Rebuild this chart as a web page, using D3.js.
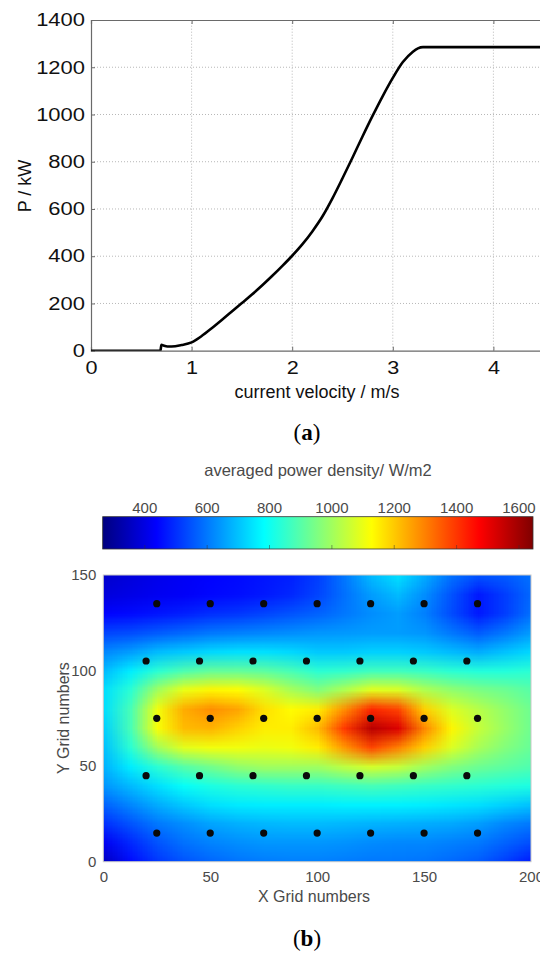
<!DOCTYPE html>
<html><head><meta charset="utf-8">
<script src="https://cdn.jsdelivr.net/npm/d3@7/dist/d3.min.js"></script>
<style>
body{margin:0;background:#fff}
svg{display:block}
text{font-family:"Liberation Sans",Arial,Helvetica,sans-serif}
</style>
</head><body>
<svg id="chart" width="540" height="954"></svg>
<script>
// ---------- Panel (a): power curve ----------
const velocity = [0, 0.69, 0.70, 0.72, 0.76, 0.80, 0.90, 1.0, 1.1, 1.2, 1.3, 1.4, 1.5, 1.6, 1.7, 1.8, 1.9, 2.0, 2.1, 2.2, 2.3, 2.4, 2.5, 2.6, 2.7, 2.8, 2.9, 3.0, 3.1, 3.2, 3.25, 3.3, 5.0];
const power    = [0, 0,    25,   22,   18,   18,   24,   35,  62,  95,  130, 166, 202, 238, 276, 316, 358, 402, 450, 505, 568, 645, 730, 818, 908, 995, 1078, 1155, 1222, 1266, 1280, 1285, 1285];
const xTicksA = [0, 1, 2, 3, 4];
const yTicksA = [0, 200, 400, 600, 800, 1000, 1200, 1400];

// ---------- Panel (b): power density map ----------
const gridX = [0, 12.5, 25, 37.5, 50, 62.5, 75, 87.5, 100, 112.5, 125, 137.5, 150, 162.5, 175, 187.5, 200];
const gridY = [150, 140, 130, 120, 110, 100, 90, 80, 70, 60, 50, 40, 30, 20, 10, 0];
const row150 = [370,390,410,425,440,450,465,480,520,600,690,740,670,590,550,560,590];
const row140 = [390,405,420,430,445,455,470,490,530,590,650,690,630,550,470,520,580];
const row130 = [440,450,465,480,500,510,530,550,570,600,630,650,610,540,470,520,590];
const row120 = [530,540,560,580,600,610,620,630,640,645,650,650,640,600,560,600,650];
const row110 = [620,650,690,710,730,740,740,730,710,710,720,720,710,690,670,700,730];
const row100 = [690,760,840,890,920,920,910,880,840,850,870,870,860,840,830,830,840];
const row90  = [740,840,1000,1100,1140,1130,1080,1010,960,1020,1090,1080,1020,980,950,930,900];
const row80  = [740,880,1110,1240,1280,1250,1170,1130,1150,1280,1420,1380,1190,1080,1030,980,930];
const row70  = [720,880,1120,1220,1230,1190,1150,1150,1220,1400,1570,1520,1290,1140,1050,990,930];
const row60  = [700,840,1000,1090,1110,1110,1100,1110,1150,1270,1380,1300,1190,1080,1010,960,920];
const row50  = [680,760,840,900,940,980,1000,1000,1000,1040,1070,1050,1000,960,930,910,890];
const row40  = [640,690,740,790,820,840,850,860,860,870,880,870,860,850,840,830,820];
const row30  = [570,620,670,710,740,755,760,760,760,765,765,765,760,750,740,720,700];
const row20  = [500,550,600,630,660,675,685,690,690,685,680,675,670,665,650,620,600];
const row10  = [420,490,550,590,615,630,640,640,640,635,625,620,620,610,600,570,540];
const row0   = [350,450,510,550,575,595,605,610,610,605,600,600,595,580,560,520,470];
const density = [row150,row140,row130,row120,row110,row100,row90,row80,row70,row60,row50,row40,row30,row20,row10,row0];

const sensorX = [25,50,75,100,125,150,175, 20,45,70,95,120,145,170, 25,50,75,100,125,150,175, 20,45,70,95,120,145,170, 25,50,75,100,125,150,175];
const sensorY = [135,135,135,135,135,135,135, 105,105,105,105,105,105,105, 75,75,75,75,75,75,75, 45,45,45,45,45,45,45, 15,15,15,15,15,15,15];
const xTicksB = [0, 50, 100, 150, 200];
const yTicksB = [0, 50, 100, 150];
const cbTicks = [400, 600, 800, 1000, 1200, 1400, 1600];
const cbDomain = [265, 1645];

const svg = d3.select("#chart");
svg.append("rect").attr("width",540).attr("height",954).attr("fill","#fff");

function widen(sel, f){
  sel.each(function(){
    const w = this.getComputedTextLength();
    d3.select(this).attr("textLength", w*f).attr("lengthAdjust","spacingAndGlyphs");
  });
}

// ===== Panel (a) =====
const xA = d3.scaleLinear().domain([0,5]).range([91, 91 + 5*100.6]);
const yA = d3.scaleLinear().domain([0,1400]).range([350.7, 20]);
const gA = svg.append("g");

gA.selectAll(".vg").data(xTicksA.filter(d=>d>0)).join("line")
  .attr("x1", d=>xA(d)).attr("x2", d=>xA(d)).attr("y1", yA(0)).attr("y2", yA(1400))
  .attr("stroke","#b8b8b8").attr("stroke-width",1).attr("stroke-dasharray","1,2");
gA.selectAll(".hg").data(yTicksA.filter(d=>d>0 && d<1400)).join("line")
  .attr("x1", xA(0)).attr("x2", xA(5)).attr("y1", d=>yA(d)).attr("y2", d=>yA(d))
  .attr("stroke","#b8b8b8").attr("stroke-width",1).attr("stroke-dasharray","1,2");

const axB = gA.append("g").attr("transform",`translate(0,${yA(0)})`)
  .call(d3.axisBottom(xA).tickValues(xTicksA).tickSize(-4).tickPadding(11).tickFormat(d3.format("d")));
const axT = gA.append("g").attr("transform",`translate(0,${yA(1400)})`)
  .call(d3.axisTop(xA).tickValues(xTicksA).tickSize(-4).tickFormat(""));
const axL = gA.append("g").attr("transform",`translate(${xA(0)},0)`)
  .call(d3.axisLeft(yA).tickValues(yTicksA).tickSize(-4).tickPadding(6).tickFormat(d3.format("d")));
[axB,axT,axL].forEach(a=>{
  a.selectAll("path").attr("stroke","#6a6a6a").attr("stroke-width",1.2);
  a.selectAll("line").attr("stroke","#6a6a6a");
  a.selectAll("text").attr("fill","#111").style("font-size","18px");
});
widen(axB.selectAll("text"), 1.2);
widen(axL.selectAll("text"), 1.22);

gA.append("clipPath").attr("id","clipA").append("rect")
  .attr("x", xA(0)).attr("y", yA(1400)-2).attr("width", xA(5)-xA(0)).attr("height", yA(0)-yA(1400)+2);
const lineA = d3.line().x((d,i)=>xA(velocity[i])).y((d,i)=>yA(power[i])).curve(d3.curveMonotoneX);
gA.append("path").datum(velocity).attr("d", lineA).attr("fill","none")
  .attr("stroke","#000").attr("stroke-width",2.6).attr("clip-path","url(#clipA)");

gA.append("text").attr("x", 317).attr("y", 398).attr("text-anchor","middle")
  .style("font-size","18px").attr("fill","#111").text("current velocity / m/s");
gA.append("text").attr("transform","translate(31,186) rotate(-90)").attr("text-anchor","middle")
  .style("font-size","18px").attr("fill","#111").text("P / kW");

const la = svg.append("text").attr("x",307).attr("y",440).attr("text-anchor","middle")
  .style("font-family","'Liberation Serif','Times New Roman',serif").style("font-size","23px").attr("fill","#000");
la.append("tspan").text("(");
la.append("tspan").attr("font-weight","bold").text("a");
la.append("tspan").text(")");

// ===== Panel (b) =====
const jet = d3.scaleLinear()
  .domain([0, 0.125, 0.375, 0.625, 0.875, 1])
  .range(["#00007f","#0000ff","#00ffff","#ffff00","#ff0000","#7f0000"])
  .clamp(true);
const tScale = d3.scaleLinear().domain(cbDomain).range([0,1]).clamp(true);
const color = v => jet(tScale(v));

const xB = d3.scaleLinear().domain([0,200]).range([103.3, 531]);
const yB = d3.scaleLinear().domain([0,150]).range([861.7, 575]);
const gB = svg.append("g");

const cbX = d3.scaleLinear().domain(cbDomain).range([102.7, 533]);
const defs = svg.append("defs");
const grad = defs.append("linearGradient").attr("id","jetGrad").attr("x1","0%").attr("x2","100%");
d3.range(0, 1.0001, 0.025).forEach(t=>{
  grad.append("stop").attr("offset", (t*100)+"%").attr("stop-color", jet(t));
});
gB.append("rect").attr("x", cbX(cbDomain[0])).attr("y", 516.7)
  .attr("width", cbX(cbDomain[1])-cbX(cbDomain[0])).attr("height", 32.3)
  .attr("fill","url(#jetGrad)").attr("stroke","#333").attr("stroke-width",0.8);
gB.selectAll(".cbt").data(cbTicks).join("line")
  .attr("x1", d=>cbX(d)).attr("x2", d=>cbX(d)).attr("y1", 549).attr("y2", 545)
  .attr("stroke","#333").attr("stroke-width",0.8).attr("opacity",0.6);
gB.selectAll(".cbl").data(cbTicks).join("text")
  .attr("x", d=>cbX(d)).attr("y", 512.5).attr("text-anchor","middle")
  .style("font-size","15px").attr("fill","#4a4a4a").text(d=>d);
gB.append("text").attr("x",318).attr("y",476).attr("text-anchor","middle")
  .style("font-size","16.5px").attr("fill","#4a4a4a").text("averaged power density/ W/m2");

const cnv = document.createElement("canvas");
cnv.width = gridX.length; cnv.height = gridY.length;
const ctx = cnv.getContext("2d");
density.forEach((row, r)=>{
  row.forEach((v, c)=>{
    ctx.fillStyle = color(v);
    ctx.fillRect(c, r, 1, 1);
  });
});
const hx = (gridX[1]-gridX[0])/2, hy = (gridY[0]-gridY[1])/2;
gB.append("clipPath").attr("id","clipB").append("rect")
  .attr("x", xB(0)).attr("y", yB(150)).attr("width", xB(200)-xB(0)).attr("height", yB(0)-yB(150));
gB.append("image")
  .attr("href", cnv.toDataURL())
  .attr("x", xB(gridX[0]-hx)).attr("y", yB(gridY[0]+hy))
  .attr("width", xB(gridX[gridX.length-1]+hx)-xB(gridX[0]-hx))
  .attr("height", yB(gridY[gridY.length-1]-hy)-yB(gridY[0]+hy))
  .attr("preserveAspectRatio","none")
  .style("image-rendering","auto")
  .attr("clip-path","url(#clipB)");
gB.append("rect").attr("x", xB(0)).attr("y", yB(150)).attr("width", xB(200)-xB(0)).attr("height", yB(0)-yB(150))
  .attr("fill","none").attr("stroke","#c8c8c8").attr("stroke-width",1);

gB.selectAll(".dot").data(sensorX).join("circle")
  .attr("cx", (d,i)=>xB(sensorX[i])).attr("cy", (d,i)=>yB(sensorY[i])).attr("r", 3.6)
  .attr("fill","#0a0a0a");

const bAxisX = gB.append("g").attr("transform",`translate(0,${yB(0)})`)
  .call(d3.axisBottom(xB).tickValues(xTicksB).tickSize(0).tickPadding(10));
const bAxisY = gB.append("g").attr("transform",`translate(${xB(0)},0)`)
  .call(d3.axisLeft(yB).tickValues(yTicksB).tickSize(0).tickPadding(7));
[bAxisX,bAxisY].forEach(a=>{
  a.select(".domain").remove();
  a.selectAll("text").attr("fill","#4a4a4a").style("font-size","15px");
});
gB.append("text").attr("x",314).attr("y",902).attr("text-anchor","middle")
  .style("font-size","16px").attr("fill","#4a4a4a").text("X Grid numbers");
gB.append("text").attr("transform","translate(69,718) rotate(-90)").attr("text-anchor","middle")
  .style("font-size","16px").attr("fill","#4a4a4a").text("Y Grid numbers");

const lb = svg.append("text").attr("x",307).attr("y",946).attr("text-anchor","middle")
  .style("font-family","'Liberation Serif','Times New Roman',serif").style("font-size","23px").attr("fill","#000");
lb.append("tspan").text("(");
lb.append("tspan").attr("font-weight","bold").text("b");
lb.append("tspan").text(")");
</script>
</body></html>
